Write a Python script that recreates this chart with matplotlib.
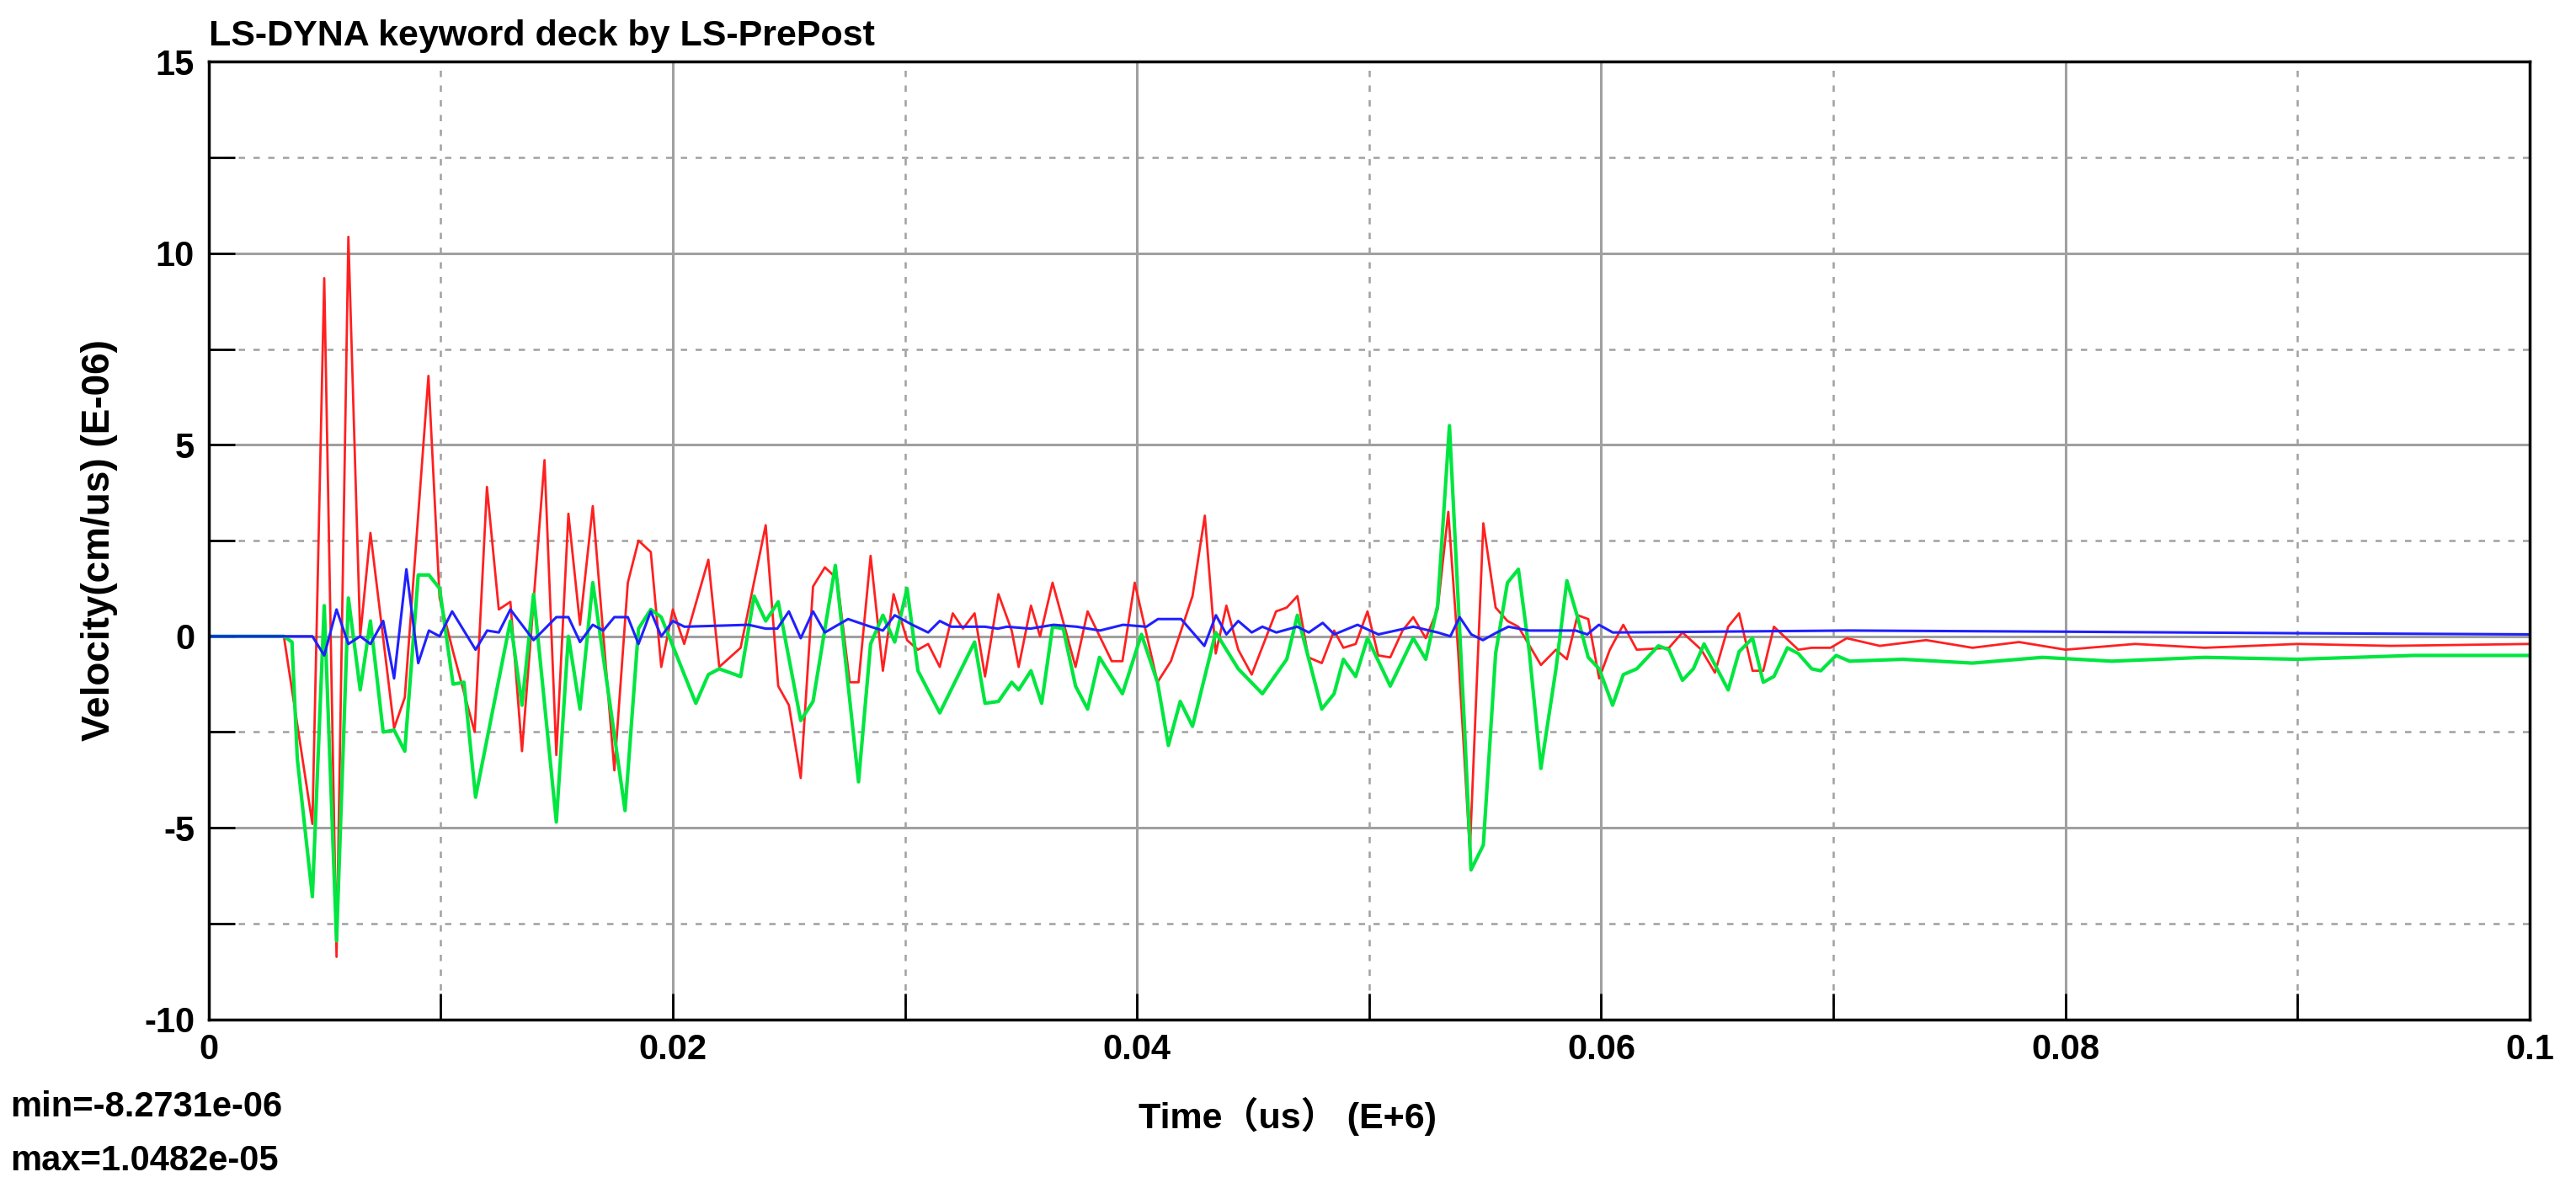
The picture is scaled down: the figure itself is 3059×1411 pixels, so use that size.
import matplotlib.pyplot as plt
import numpy as np
from matplotlib.ticker import MultipleLocator

plt.rcParams['font.family'] = ['Liberation Sans', 'Noto Sans CJK SC', 'DejaVu Sans']
plt.rcParams['axes.unicode_minus'] = False

# red curve (E-06)
red_t = [0, 0.00324, 0.00447, 0.00498, 0.00551, 0.00602, 0.00653, 0.00697, 0.00799, 0.00845, 0.00947,
         0.00995, 0.01053, 0.01146, 0.01199, 0.0125, 0.0130, 0.0135, 0.01447, 0.01498, 0.0155, 0.0160,
         0.01655, 0.01748, 0.01806, 0.01852, 0.01905, 0.0195, 0.0200, 0.02049, 0.02153, 0.0220, 0.02292,
         0.0240, 0.02454, 0.0250, 0.02551, 0.02604, 0.02655, 0.02708, 0.02762, 0.0280, 0.02852, 0.02905,
         0.02951, 0.03009, 0.03056, 0.0310, 0.0315, 0.03206, 0.0325, 0.0330, 0.03345, 0.03403, 0.0346,
         0.0349, 0.03543, 0.03582, 0.03636, 0.03735, 0.03787, 0.03891, 0.03937, 0.0399, 0.04088, 0.04146,
         0.04239, 0.04292, 0.04339, 0.04385, 0.04436, 0.04494, 0.04599, 0.04645, 0.04691, 0.04738, 0.04796,
         0.04849, 0.04889, 0.04942, 0.04993, 0.05039, 0.05091, 0.05144, 0.0519, 0.05244, 0.05295, 0.05341,
         0.05383, 0.05434, 0.05492, 0.05545, 0.05596, 0.05643, 0.0574, 0.05805, 0.05852, 0.05898, 0.05944,
         0.05991, 0.06037, 0.06095, 0.06153, 0.06292, 0.0635, 0.06431, 0.0649, 0.06547, 0.06594, 0.06652,
         0.06698, 0.06744, 0.06849, 0.06907, 0.06988, 0.07058, 0.072, 0.074, 0.076, 0.078, 0.080, 0.083,
         0.086, 0.090, 0.094, 0.1]
red_v = [0, 0, -4.9, 9.35, -8.37, 10.43, 0, 2.7, -2.4, -1.6, 6.8,
         1.0, -0.4, -2.5, 3.9, 0.7, 0.9, -3.0, 4.6, -3.1, 3.2, 0.3,
         3.4, -3.5, 1.4, 2.5, 2.2, -0.8, 0.7, -0.2, 2.0, -0.8, -0.3,
         2.9, -1.3, -1.8, -3.7, 1.3, 1.8, 1.5, -1.2, -1.2, 2.1, -0.9,
         1.1, -0.1, -0.35, -0.2, -0.8, 0.6, 0.2, 0.6, -1.05, 1.1, 0.15,
         -0.8, 0.8, 0, 1.4, -0.8, 0.65, -0.65, -0.65, 1.4, -1.2, -0.65,
         1.05, 3.15, -0.45, 0.8, -0.35, -1.0, 0.65, 0.75, 1.05, -0.55, -0.7,
         0.15, -0.3, -0.2, 0.65, -0.5, -0.55, 0.15, 0.5, -0.05, 0.7, 3.25,
         -0.35, -5.6, 2.95, 0.75, 0.4, 0.25, -0.75, -0.35, -0.6, 0.55, 0.45,
         -1.1, -0.35, 0.3, -0.35, -0.3, 0.1, -0.35, -0.95, 0.25, 0.6, -0.9,
         -0.9, 0.25, -0.35, -0.3, -0.3, -0.05, -0.25, -0.1, -0.3, -0.15, -0.35, -0.2,
         -0.3, -0.2, -0.25, -0.2]

green_t = [0, 0.00324, 0.00359, 0.00382, 0.00447, 0.00498, 0.00551, 0.00602, 0.00653, 0.00697, 0.00752,
           0.00799, 0.00845, 0.00903, 0.00949, 0.00995, 0.01053, 0.0110, 0.0115, 0.0130, 0.0135, 0.0140,
           0.01498, 0.0155, 0.0160, 0.01655, 0.01794, 0.01852, 0.01905, 0.0195, 0.02099, 0.02153, 0.0220,
           0.02292, 0.0235, 0.0240, 0.02454, 0.02551, 0.02604, 0.0270, 0.0280, 0.02852, 0.02905, 0.02956,
           0.03009, 0.03056, 0.0315, 0.0330, 0.03345, 0.03403, 0.0346, 0.0349, 0.03543, 0.03589, 0.03636,
           0.03682, 0.03735, 0.03787, 0.03838, 0.03937, 0.04019, 0.04088, 0.04135, 0.04186, 0.04239, 0.04339,
           0.04436, 0.0454, 0.04645, 0.04691, 0.04796, 0.04849, 0.04889, 0.04942, 0.04993, 0.05091, 0.0519,
           0.05244, 0.05295, 0.05346, 0.05411, 0.05439, 0.05492, 0.05545, 0.05596, 0.05643, 0.05689, 0.0574,
           0.05805, 0.05852, 0.05898, 0.05944, 0.05991, 0.06049, 0.06095, 0.06153, 0.06246, 0.06292, 0.0635,
           0.06397, 0.06443, 0.06547, 0.06594, 0.06652, 0.06698, 0.06744, 0.06802, 0.06849, 0.06907, 0.06946,
           0.07012, 0.0707, 0.073, 0.076, 0.079, 0.082, 0.086, 0.090, 0.095, 0.1]
green_v = [0, 0, -0.15, -3.2, -6.8, 0.8, -7.95, 1.0, -1.4, 0.4, -2.5,
           -2.45, -3.0, 1.6, 1.6, 1.25, -1.25, -1.2, -4.2, 0.4, -1.8, 1.1,
           -4.85, 0, -1.9, 1.4, -4.55, 0.2, 0.7, 0.5, -1.75, -1.0, -0.85,
           -1.05, 1.05, 0.4, 0.9, -2.2, -1.7, 1.85, -3.8, -0.2, 0.55, -0.15,
           1.25, -0.9, -2.0, -0.15, -1.75, -1.7, -1.2, -1.4, -0.9, -1.75, 0.25,
           0.2, -1.3, -1.9, -0.55, -1.5, 0.05, -1.2, -2.85, -1.7, -2.35, 0.1,
           -0.85, -1.5, -0.6, 0.55, -1.9, -1.5, -0.6, -1.05, -0.05, -1.3, -0.05,
           -0.6, 0.8, 5.5, -2.4, -6.1, -5.45, -0.45, 1.4, 1.75, -0.35, -3.45,
           -0.85, 1.45, 0.5, -0.55, -0.85, -1.8, -1.0, -0.85, -0.25, -0.35, -1.15,
           -0.85, -0.2, -1.4, -0.4, -0.05, -1.2, -1.05, -0.3, -0.45, -0.85, -0.9,
           -0.5, -0.65, -0.6, -0.7, -0.55, -0.65, -0.55, -0.6, -0.5, -0.5]

blue_t = [0, 0.0035, 0.00447, 0.00498, 0.00551, 0.00602, 0.00653, 0.00697, 0.00752, 0.00799, 0.00852,
          0.00903, 0.00949, 0.00995, 0.01049, 0.0115, 0.0120, 0.0125, 0.0130, 0.0140, 0.01498, 0.0155,
          0.0160, 0.01655, 0.0170, 0.01748, 0.01806, 0.01852, 0.01905, 0.0195, 0.0200, 0.0205, 0.02326,
          0.0240, 0.0245, 0.0250, 0.02551, 0.02604, 0.02655, 0.02755, 0.02852, 0.02905, 0.02956, 0.03032,
          0.0310, 0.0315, 0.0320, 0.03345, 0.0340, 0.0344, 0.0354, 0.0364, 0.0374, 0.0384, 0.0394,
          0.0404, 0.0409, 0.0419, 0.0429, 0.0434, 0.04385, 0.04436, 0.04494, 0.0454, 0.0460, 0.0469,
          0.0474, 0.0480, 0.0485, 0.0495, 0.0504, 0.0519, 0.05295, 0.0535, 0.0539, 0.0544, 0.0549,
          0.0555, 0.0560, 0.0569, 0.0589, 0.0594, 0.0599, 0.0605, 0.0707, 0.080, 0.090, 0.1]
blue_v = [0, 0, 0, -0.5, 0.7, -0.2, 0, -0.2, 0.4, -1.1, 1.75,
          -0.7, 0.15, 0, 0.65, -0.35, 0.15, 0.1, 0.7, -0.1, 0.5, 0.5,
          -0.15, 0.3, 0.15, 0.5, 0.5, -0.2, 0.65, 0, 0.4, 0.25, 0.3,
          0.2, 0.2, 0.65, -0.05, 0.65, 0.1, 0.45, 0.25, 0.15, 0.55, 0.3,
          0.1, 0.4, 0.25, 0.25, 0.2, 0.25, 0.2, 0.3, 0.25, 0.15, 0.3,
          0.25, 0.45, 0.45, -0.25, 0.55, 0.05, 0.4, 0.1, 0.25, 0.1, 0.25,
          0.1, 0.35, 0.05, 0.3, 0.05, 0.25, 0.1, 0, 0.5, 0.05, -0.1,
          0.1, 0.25, 0.15, 0.15, 0.05, 0.3, 0.1, 0.15, 0.12, 0.08, 0.05]

fig = plt.figure(figsize=(30.59, 14.11), dpi=100)
ax = fig.add_axes([0.081, 0.142, 0.901, 0.806])

ax.plot(red_t, red_v, color='#ff2020', lw=2)
ax.plot(green_t, green_v, color='#00e640', lw=3)
ax.plot(blue_t, blue_v, color='#2020ff', lw=2.2)

ax.set_xlim(0, 0.1)
ax.set_ylim(-10, 15)
ax.set_xticks([0, 0.02, 0.04, 0.06, 0.08, 0.1])
ax.set_xticklabels(['0', '0.02', '0.04', '0.06', '0.08', '0.1'])
ax.xaxis.set_minor_locator(MultipleLocator(0.01))
ax.yaxis.set_major_locator(MultipleLocator(5))
ax.yaxis.set_minor_locator(MultipleLocator(2.5))
ax.grid(which='major', color='#a0a0a0', lw=2.2, ls='-')
ax.grid(which='minor', color='#a0a0a0', lw=1.8, ls=(0, (3, 4)))
ax.tick_params(which='both', direction='in', length=22, width=2, labelsize=30, pad=12)
for lbl in ax.get_xticklabels() + ax.get_yticklabels():
    lbl.set_fontweight('bold')
for s in ax.spines.values():
    s.set_linewidth(2.5)

fig.text(0.081, 0.962, 'LS-DYNA keyword deck by LS-PrePost', fontsize=31, fontweight='bold')
ax.set_ylabel('Velocity(cm/us) (E-06)', fontsize=33, fontweight='bold', labelpad=22)
fig.text(0.5, 0.05, 'Time（us） (E+6)', fontsize=31, fontweight='bold', ha='center')
fig.text(0.004, 0.06, 'min=-8.2731e-06', fontsize=30, fontweight='bold')
fig.text(0.004, 0.015, 'max=1.0482e-05', fontsize=30, fontweight='bold')

fig.savefig('out.png', dpi=100)
